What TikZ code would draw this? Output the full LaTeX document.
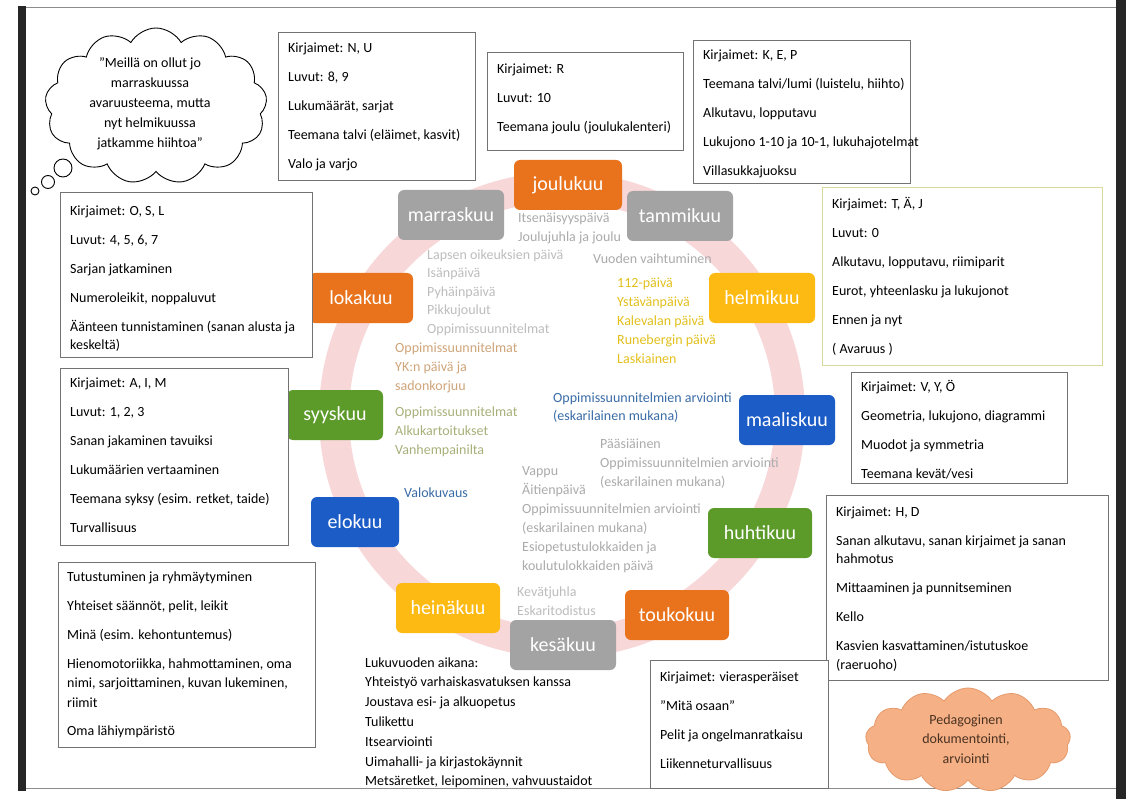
\documentclass[tikz,border=0pt]{standalone}
\usepackage{fontspec}
\setmainfont{Carlito}
\usetikzlibrary{shapes.symbols,calc}
\definecolor{morange}{HTML}{E8731C}
\definecolor{mgray}{HTML}{A3A3A3}
\definecolor{myellow}{HTML}{FDBA12}
\definecolor{mblue}{HTML}{1C5CC6}
\definecolor{mgreen}{HTML}{5C9B2A}
\definecolor{ringc}{HTML}{F7CDD0}
\definecolor{tgray}{HTML}{ABABAB}
\definecolor{tlgray}{HTML}{BDBDBD}
\definecolor{tbrown}{HTML}{CFA57A}
\definecolor{tolive}{HTML}{A8B07A}
\definecolor{tyellow}{HTML}{E3C01C}
\definecolor{tblue}{HTML}{3A6CA6}
\definecolor{salmon}{HTML}{F5B085}
\definecolor{salmonedge}{HTML}{E59A6C}
\definecolor{pedtext}{HTML}{4A3222}
\definecolor{tajedge}{HTML}{D8D89A}
\newcommand\ig{\\[10.5pt]}
\begin{document}
\begin{tikzpicture}[x=1pt,y=-1pt,
  month/.style={rounded corners=6pt, minimum height=50pt, inner sep=0pt, text=white, font=\fontsize{20}{24}\selectfont},
  infobox/.style={draw=black!55, line width=0.9pt, fill=white, inner sep=0pt, anchor=north west},
  boxtext/.style={anchor=north west, inner sep=0pt, align=left, font=\fontsize{14}{18.5}\selectfont},
  ctext/.style={anchor=north west, inner sep=0pt, align=left, font=\fontsize{14}{19}\selectfont},
  bubble/.style={circle, draw=black, line width=0.9pt, fill=white, inner sep=0pt}]
\useasboundingbox (0,0) rectangle (1126,799);
\fill[white] (0,0) rectangle (1126,799);
% frame
\draw[black!45, line width=1pt] (22,8) -- (1118,8);
\draw[black!45, line width=1pt] (22,788) -- (1116,788);
\fill[black!85] (18,6) rectangle (26,791);
\fill[black!85] (1116,0) rectangle (1126,799);
% ring
\draw[ringc, line width=30pt, opacity=0.8] (562,415) circle [radius=228pt];
% months
\node[month, fill=morange, minimum width=108pt] (jou) at (568,185) {joulukuu};
\node[month, fill=mgray, minimum width=106pt] (tam) at (680,216) {tammikuu};
\node[month, fill=mgray, minimum width=106pt] (mar) at (451,215) {marraskuu};
\node[month, fill=morange, minimum width=104pt] (lok) at (361,298) {lokakuu};
\node[month, fill=myellow, minimum width=106pt] (hel) at (762,298) {helmikuu};
\node[month, fill=mgreen, minimum width=96pt] (syy) at (335,415) {syyskuu};
\node[month, fill=mblue, minimum width=96pt] (maa) at (787,420) {maaliskuu};
\node[month, fill=mblue, minimum width=88pt] (elo) at (355,522) {elokuu};
\node[month, fill=mgreen, minimum width=104pt] (huh) at (760,533) {huhtikuu};
\node[month, fill=myellow, minimum width=104pt] (hei) at (448,608) {heinäkuu};
\node[month, fill=morange, minimum width=104pt] (tou) at (677,615) {toukokuu};
\node[month, fill=mgray, minimum width=106pt] (kes) at (563,645) {kesäkuu};
% centre texts
\node[ctext, text=tgray] (joutx) at (518,208.7) {\strut Itsenäisyyspäivä\\Joulujuhla ja joulu};
\node[ctext, text=tgray] (tamtx) at (593,249.7) {\strut Vuoden vaihtuminen};
\node[ctext, text=tlgray, font=\fontsize{14}{18.5}\selectfont] (martx) at (427,246) {\strut Lapsen oikeuksien päivä\\Isänpäivä\\Pyhäinpäivä\\Pikkujoulut\\Oppimissuunnitelmat};
\node[ctext, text=tbrown] (loktx) at (395,338.7) {\strut Oppimissuunnitelmat\\YK:n päivä ja\\sadonkorjuu};
\node[ctext, text=tolive] (syytx) at (395,402.7) {\strut Oppimissuunnitelmat\\Alkukartoitukset\\Vanhempainilta};
\node[ctext, text=tyellow] (heltx) at (617,273.7) {\strut 112-päivä\\Ystävänpäivä\\Kalevalan päivä\\Runebergin päivä\\Laskiainen};
\node[ctext, text=tblue, font=\fontsize{14}{18}\selectfont] (maatx) at (553,389.4) {\strut Oppimissuunnitelmien arviointi\\(eskarilainen mukana)};
\node[ctext, text=tgray] (huhtx) at (600,434.7) {\strut Pääsiäinen\\Oppimissuunnitelmien arviointi\\(eskarilainen mukana)};
\node[ctext, text=tgray] (toutx) at (522,461.7) {\strut Vappu\\Äitienpäivä\\Oppimissuunnitelmien arviointi\\(eskarilainen mukana)\\Esiopetustulokkaiden ja\\koulutulokkaiden päivä};
\node[ctext, text=tblue] (elotx) at (404,483.7) {\strut Valokuvaus};
\node[ctext, text=tlgray] (kestx) at (517,582.7) {\strut Kevätjuhla\\Eskaritodistus};
% thought bubble
\node[cloud, cloud puffs=13, cloud puff arc=120, aspect=1.45, draw=black, line width=0.9pt, fill=white, minimum width=222pt, minimum height=156pt] (th) at (156,106) {};
\node[align=center, inner sep=0pt, font=\fontsize{14}{20}\selectfont] (thtx) at (150,104) {”Meillä on ollut jo\\marraskuussa\\avaruusteema, mutta\\nyt helmikuussa\\jatkamme hiihtoa”};
\node[bubble, minimum size=18pt] (bu1) at (63,168) {};
\node[bubble, minimum size=13pt] (bu2) at (48,182) {};
\node[bubble, minimum size=8pt] (bu3) at (35,191) {};
% info boxes
\node[infobox, minimum width=197pt, minimum height=148pt] (nu) at (278,32) {};
\node[boxtext] (nutx) at ($(nu.north west)+(10,7)$) {\strut Kirjaimet: N, U\ig Luvut: 8, 9\ig Lukumäärät, sarjat\ig Teemana talvi (eläimet, kasvit)\ig Valo ja varjo};
\node[infobox, minimum width=196pt, minimum height=98pt] (rr) at (487,52) {};
\node[boxtext] (rrtx) at ($(rr.north west)+(10,8)$) {\strut Kirjaimet: R\ig Luvut: 10\ig Teemana joulu (joulukalenteri)};
\node[infobox, minimum width=217pt, minimum height=143pt] (kep) at (693,40) {};
\node[boxtext] (keptx) at ($(kep.north west)+(10,6)$) {\strut Kirjaimet: K, E, P\ig Teemana talvi/lumi (luistelu, hiihto)\ig Alkutavu, lopputavu\ig Lukujono 1-10 ja 10-1, lukuhajotelmat\ig Villasukkajuoksu};
\node[infobox, minimum width=252pt, minimum height=165pt] (osl) at (60,192) {};
\node[boxtext] (osltx) at ($(osl.north west)+(10,10)$) {\strut Kirjaimet: O, S, L\ig Luvut: 4, 5, 6, 7\ig Sarjan jatkaminen\ig Numeroleikit, noppaluvut\ig Äänteen tunnistaminen (sanan alusta ja\\keskeltä)};
\node[infobox, draw=tajedge, minimum width=280pt, minimum height=178pt] (taj) at (822,187) {};
\node[boxtext] (tajtx) at ($(taj.north west)+(10,8)$) {\strut Kirjaimet: T, Ä, J\ig Luvut: 0\ig Alkutavu, lopputavu, riimiparit\ig Eurot, yhteenlasku ja lukujonot\ig Ennen ja nyt\ig ( Avaruus )};
\node[infobox, minimum width=228pt, minimum height=177pt] (aim) at (60,368) {};
\node[boxtext] (aimtx) at ($(aim.north west)+(10,6)$) {\strut Kirjaimet: A, I, M\ig Luvut: 1, 2, 3\ig Sanan jakaminen tavuiksi\ig Lukumäärien vertaaminen\ig Teemana syksy (esim. retket, taide)\ig Turvallisuus};
\node[infobox, minimum width=216pt, minimum height=111pt] (vyo) at (851,372) {};
\node[boxtext] (vyotx) at ($(vyo.north west)+(10,6)$) {\strut Kirjaimet: V, Y, Ö\ig Geometria, lukujono, diagrammi\ig Muodot ja symmetria\ig Teemana kevät/vesi};
\node[infobox, minimum width=282pt, minimum height=185pt] (hd) at (826,495) {};
\node[boxtext] (hdtx) at ($(hd.north west)+(10,8)$) {\strut Kirjaimet: H, D\ig Sanan alkutavu, sanan kirjaimet ja sanan\\hahmotus\ig Mittaaminen ja punnitseminen\ig Kello\ig Kasvien kasvattaminen/istutuskoe\\(raeruoho)};
\node[infobox, minimum width=257pt, minimum height=185pt] (tut) at (58,562) {};
\node[boxtext, font=\fontsize{14}{19.5}\selectfont] (tuttx) at ($(tut.north west)+(9,5.5)$) {\strut Tutustuminen ja ryhmäytyminen\\[9.5pt] Yhteiset säännöt, pelit, leikit\\[9.5pt] Minä (esim. kehontuntemus)\\[9.5pt] Hienomotoriikka, hahmottaminen, oma\\nimi, sarjoittaminen, kuvan lukeminen,\\riimit\\[8.5pt] Oma lähiympäristö};
\node[infobox, minimum width=178pt, minimum height=128pt] (vie) at (650,660) {};
\node[boxtext] (vietx) at ($(vie.north west)+(10,8)$) {\strut Kirjaimet: vierasperäiset\ig ”Mitä osaan”\ig Pelit ja ongelmanratkaisu\ig Liikenneturvallisuus};
% year list
\node[ctext, font=\fontsize{14}{19.8}\selectfont] (luku) at (365,653.1) {\strut Lukuvuoden aikana:\\Yhteistyö varhaiskasvatuksen kanssa\\Joustava esi- ja alkuopetus\\Tulikettu\\Itsearviointi\\Uimahalli- ja kirjastokäynnit\\Metsäretket, leipominen, vahvuustaidot};
% pedagogical cloud
\node[cloud, cloud puffs=13, cloud puff arc=115, aspect=2, draw=salmonedge, line width=0.8pt, fill=salmon, minimum width=205pt, minimum height=104pt] (ped) at (968,740) {};
\node[align=center, inner sep=0pt, text=pedtext, font=\fontsize{14}{19.5}\selectfont] (pedtx) at (966,739) {Pedagoginen\\dokumentointi,\\arviointi};
\end{tikzpicture}
\end{document}
